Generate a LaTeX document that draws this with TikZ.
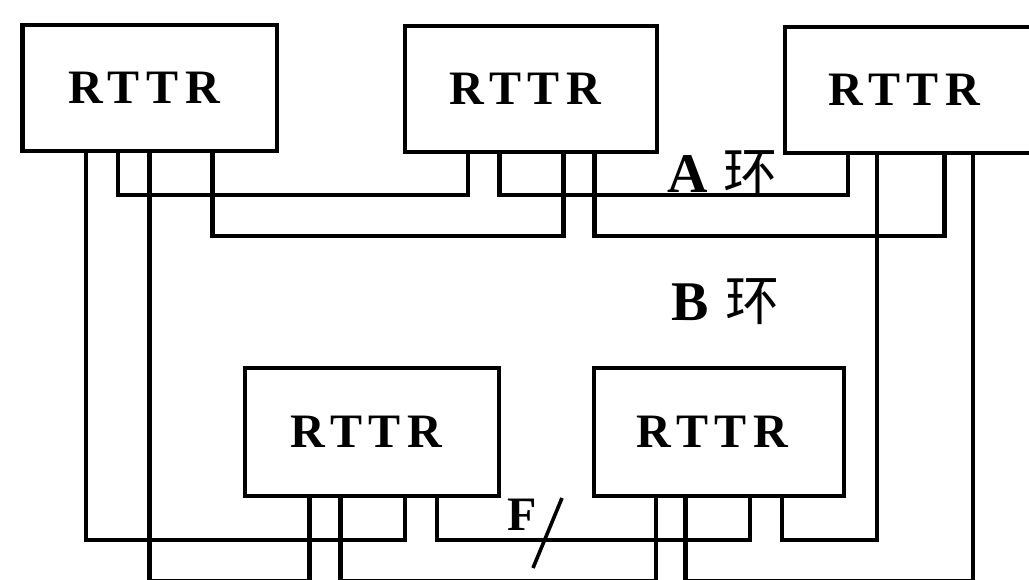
\documentclass[tikz,border=0pt]{standalone}
\usepackage{fontspec}
\setmainfont{Liberation Serif}
\newfontfamily\cjkfont{Noto Sans CJK SC}
\newfontfamily\unitfont[LetterSpace=14]{Liberation Serif}

\begin{document}
\begin{tikzpicture}[x=1pt,y=-1pt,
  unit/.style={draw, rectangle, line width=4.4pt, inner sep=0pt, outer sep=0pt},
  unitname/.style={font=\unitfont\bfseries\fontsize{48}{48}\selectfont, inner sep=0pt},
  wire/.style={line width=4.4pt, line join=miter},
  ringname/.style={font=\bfseries\fontsize{56}{56}\selectfont, inner sep=0pt, anchor=base west}]
\useasboundingbox (0,0) rectangle (1029,579);
\clip (0,0) rectangle (1029,579);

% RTTR units
\node[unit, minimum width=254.5pt, minimum height=126pt] (tl) at (149.75,88) {};
\node[unit, minimum width=252pt,   minimum height=126pt] (tm) at (531,89) {};
\node[unit, minimum width=250pt,   minimum height=126pt] (tr) at (910,90) {};
\node[unit, minimum width=254pt,   minimum height=128pt] (bl) at (372,432) {};
\node[unit, minimum width=250pt,   minimum height=128pt] (br) at (719,432) {};

\node[unitname] (tlname) at ([xshift=-5.5pt]tl.center) {RTTR};
\node[unitname] (tmname) at ([xshift=-5.5pt]tm.center) {RTTR};
\node[unitname] (trname) at ([xshift=-5.5pt]tr.center) {RTTR};
\node[unitname] (blname) at ([xshift=-5.5pt]bl.center) {RTTR};
\node[unitname] (brname) at ([xshift=-6.5pt]br.center) {RTTR};

% ports on the lower edge of each unit
\coordinate (tl1) at (tl.south -| 86,0);
\coordinate (tl2) at (tl.south -| 118,0);
\coordinate (tl3) at (tl.south -| 149.5,0);
\coordinate (tl4) at (tl.south -| 212.5,0);
\coordinate (tm1) at (tm.south -| 468,0);
\coordinate (tm2) at (tm.south -| 499.5,0);
\coordinate (tm3) at (tm.south -| 563.5,0);
\coordinate (tm4) at (tm.south -| 594.5,0);
\coordinate (tr1) at (tr.south -| 848,0);
\coordinate (tr2) at (tr.south -| 877,0);
\coordinate (tr3) at (tr.south -| 944.5,0);
\coordinate (tr4) at (tr.south -| 973,0);
\coordinate (bl1) at (bl.south -| 309.5,0);
\coordinate (bl2) at (bl.south -| 340.5,0);
\coordinate (bl3) at (bl.south -| 405,0);
\coordinate (bl4) at (bl.south -| 437,0);
\coordinate (br1) at (br.south -| 656,0);
\coordinate (br2) at (br.south -| 685.5,0);
\coordinate (br3) at (br.south -| 750,0);
\coordinate (br4) at (br.south -| 782,0);

% A ring
\draw[wire] (tl2) |- (tm1 |- 0,195) -- (tm1);
\draw[wire] (tm2) |- (tr1 |- 0,195) -- (tr1);
\draw[wire] (tl4) |- (tm3 |- 0,236) -- (tm3);
\draw[wire] (tm4) |- (tr3 |- 0,236) -- (tr3);

% B ring
\draw[wire] (tl1) |- (bl3 |- 0,540) -- (bl3);
\draw[wire] (bl4) |- (br3 |- 0,540) -- (br3);
\draw[wire] (tr2) |- (br4 |- 0,540) -- (br4);
\draw[wire] (tl3) |- (bl1 |- 0,580.8) -- (bl1);
\draw[wire] (bl2) |- (br1 |- 0,580.8) -- (br1);
\draw[wire] (tr4) |- (br2 |- 0,580.8) -- (br2);

% ring labels and the F cut mark
\node[ringname] (ringA) at (667,192) {A\hspace{16pt}{\cjkfont\mdseries\fontsize{54}{54}\selectfont 环}};
\node[ringname] (ringB) at (671,320) {B\hspace{17pt}{\cjkfont\mdseries\fontsize{54}{54}\selectfont 环}};
\node[ringname, font=\bfseries\fontsize{48}{48}\selectfont] (fname) at (507,530) {F};
\coordinate (cutA) at (562,498);
\coordinate (cutB) at (533,568);
\draw[line width=3.6pt] (cutA) -- (cutB);
\end{tikzpicture}
\end{document}
